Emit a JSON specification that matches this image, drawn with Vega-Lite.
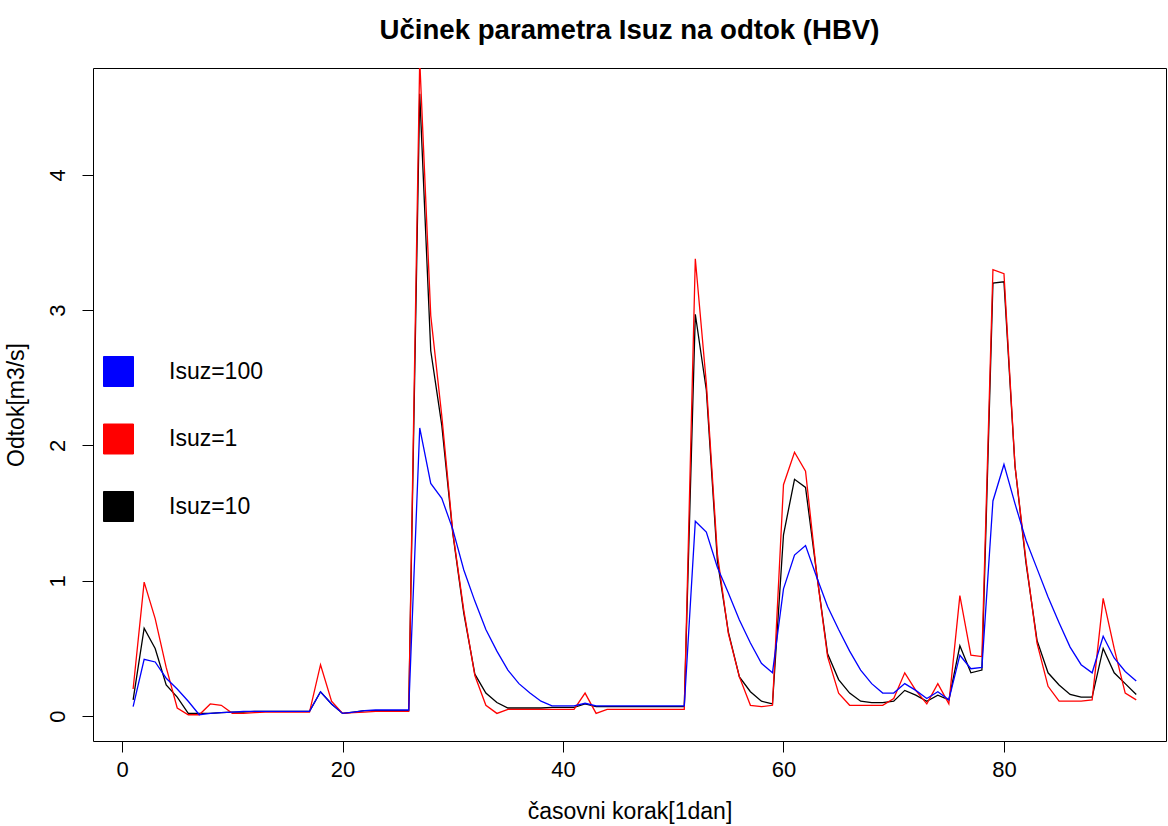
{
  "$schema": "https://vega.github.io/schema/vega-lite/v6.json",
  "autosize": "none",
  "width": 1073,
  "height": 673,
  "padding": {"left": 93, "top": 68, "right": 2, "bottom": 85},
  "background": "white",
  "config": {
    "font": "Liberation Sans",
    "view": {"stroke": "black", "strokeWidth": 1},
    "axis": {"grid": false, "domain": false, "tickColor": "black", "tickSize": 11, "tickWidth": 1,
             "labelColor": "black", "titleColor": "black", "labelFont": "Liberation Sans", "titleFont": "Liberation Sans",
             "titleFontWeight": "normal"}
  },
  "title": {
    "text": "Učinek parametra Isuz na odtok (HBV)",
    "fontSize": 27.6, "fontWeight": "bold", "font": "Liberation Sans", "color": "black",
    "anchor": "middle", "frame": "group", "baseline": "bottom", "offset": 24, "dy": 29
  },
  "data": {
    "values": [
      {"t": 1, "Isuz=100": 0.07, "Isuz=1": 0.20, "Isuz=10": 0.12},
      {"t": 2, "Isuz=100": 0.42, "Isuz=1": 0.99, "Isuz=10": 0.65},
      {"t": 3, "Isuz=100": 0.40, "Isuz=1": 0.72, "Isuz=10": 0.50},
      {"t": 4, "Isuz=100": 0.28, "Isuz=1": 0.36, "Isuz=10": 0.23},
      {"t": 5, "Isuz=100": 0.20, "Isuz=1": 0.06, "Isuz=10": 0.14},
      {"t": 6, "Isuz=100": 0.11, "Isuz=1": 0.01, "Isuz=10": 0.02},
      {"t": 7, "Isuz=100": 0.01, "Isuz=1": 0.01, "Isuz=10": 0.02},
      {"t": 8, "Isuz=100": 0.02, "Isuz=1": 0.09, "Isuz=10": 0.02},
      {"t": 9, "Isuz=100": 0.025, "Isuz=1": 0.08, "Isuz=10": 0.025},
      {"t": 10, "Isuz=100": 0.03, "Isuz=1": 0.02, "Isuz=10": 0.03},
      {"t": 11, "Isuz=100": 0.035, "Isuz=1": 0.02, "Isuz=10": 0.03},
      {"t": 12, "Isuz=100": 0.035, "Isuz=1": 0.025, "Isuz=10": 0.035},
      {"t": 13, "Isuz=100": 0.035, "Isuz=1": 0.03, "Isuz=10": 0.035},
      {"t": 14, "Isuz=100": 0.035, "Isuz=1": 0.03, "Isuz=10": 0.035},
      {"t": 15, "Isuz=100": 0.035, "Isuz=1": 0.03, "Isuz=10": 0.035},
      {"t": 16, "Isuz=100": 0.035, "Isuz=1": 0.03, "Isuz=10": 0.035},
      {"t": 17, "Isuz=100": 0.035, "Isuz=1": 0.03, "Isuz=10": 0.035},
      {"t": 18, "Isuz=100": 0.18, "Isuz=1": 0.38, "Isuz=10": 0.18},
      {"t": 19, "Isuz=100": 0.09, "Isuz=1": 0.11, "Isuz=10": 0.09},
      {"t": 20, "Isuz=100": 0.02, "Isuz=1": 0.02, "Isuz=10": 0.02},
      {"t": 21, "Isuz=100": 0.03, "Isuz=1": 0.025, "Isuz=10": 0.03},
      {"t": 22, "Isuz=100": 0.04, "Isuz=1": 0.03, "Isuz=10": 0.04},
      {"t": 23, "Isuz=100": 0.045, "Isuz=1": 0.035, "Isuz=10": 0.04},
      {"t": 24, "Isuz=100": 0.045, "Isuz=1": 0.035, "Isuz=10": 0.04},
      {"t": 25, "Isuz=100": 0.045, "Isuz=1": 0.035, "Isuz=10": 0.04},
      {"t": 26, "Isuz=100": 0.045, "Isuz=1": 0.035, "Isuz=10": 0.04},
      {"t": 27, "Isuz=100": 2.13, "Isuz=1": 4.85, "Isuz=10": 4.60},
      {"t": 28, "Isuz=100": 1.72, "Isuz=1": 2.96, "Isuz=10": 2.70},
      {"t": 29, "Isuz=100": 1.61, "Isuz=1": 2.22, "Isuz=10": 2.15},
      {"t": 30, "Isuz=100": 1.38, "Isuz=1": 1.36, "Isuz=10": 1.35},
      {"t": 31, "Isuz=100": 1.08, "Isuz=1": 0.78, "Isuz=10": 0.76},
      {"t": 32, "Isuz=100": 0.85, "Isuz=1": 0.30, "Isuz=10": 0.31},
      {"t": 33, "Isuz=100": 0.64, "Isuz=1": 0.08, "Isuz=10": 0.17},
      {"t": 34, "Isuz=100": 0.48, "Isuz=1": 0.02, "Isuz=10": 0.10},
      {"t": 35, "Isuz=100": 0.34, "Isuz=1": 0.05, "Isuz=10": 0.06},
      {"t": 36, "Isuz=100": 0.24, "Isuz=1": 0.05, "Isuz=10": 0.06},
      {"t": 37, "Isuz=100": 0.17, "Isuz=1": 0.05, "Isuz=10": 0.06},
      {"t": 38, "Isuz=100": 0.11, "Isuz=1": 0.05, "Isuz=10": 0.06},
      {"t": 39, "Isuz=100": 0.075, "Isuz=1": 0.05, "Isuz=10": 0.065},
      {"t": 40, "Isuz=100": 0.075, "Isuz=1": 0.05, "Isuz=10": 0.065},
      {"t": 41, "Isuz=100": 0.075, "Isuz=1": 0.05, "Isuz=10": 0.065},
      {"t": 42, "Isuz=100": 0.095, "Isuz=1": 0.17, "Isuz=10": 0.09},
      {"t": 43, "Isuz=100": 0.075, "Isuz=1": 0.02, "Isuz=10": 0.07},
      {"t": 44, "Isuz=100": 0.075, "Isuz=1": 0.05, "Isuz=10": 0.07},
      {"t": 45, "Isuz=100": 0.075, "Isuz=1": 0.05, "Isuz=10": 0.07},
      {"t": 46, "Isuz=100": 0.075, "Isuz=1": 0.05, "Isuz=10": 0.07},
      {"t": 47, "Isuz=100": 0.075, "Isuz=1": 0.05, "Isuz=10": 0.07},
      {"t": 48, "Isuz=100": 0.075, "Isuz=1": 0.05, "Isuz=10": 0.07},
      {"t": 49, "Isuz=100": 0.075, "Isuz=1": 0.05, "Isuz=10": 0.07},
      {"t": 50, "Isuz=100": 0.075, "Isuz=1": 0.05, "Isuz=10": 0.07},
      {"t": 51, "Isuz=100": 0.075, "Isuz=1": 0.05, "Isuz=10": 0.07},
      {"t": 52, "Isuz=100": 1.44, "Isuz=1": 3.38, "Isuz=10": 2.97},
      {"t": 53, "Isuz=100": 1.36, "Isuz=1": 2.46, "Isuz=10": 2.41},
      {"t": 54, "Isuz=100": 1.10, "Isuz=1": 1.20, "Isuz=10": 1.15},
      {"t": 55, "Isuz=100": 0.91, "Isuz=1": 0.61, "Isuz=10": 0.62},
      {"t": 56, "Isuz=100": 0.71, "Isuz=1": 0.29, "Isuz=10": 0.29},
      {"t": 57, "Isuz=100": 0.54, "Isuz=1": 0.08, "Isuz=10": 0.18},
      {"t": 58, "Isuz=100": 0.39, "Isuz=1": 0.07, "Isuz=10": 0.11},
      {"t": 59, "Isuz=100": 0.32, "Isuz=1": 0.08, "Isuz=10": 0.09},
      {"t": 60, "Isuz=100": 0.94, "Isuz=1": 1.71, "Isuz=10": 1.34},
      {"t": 61, "Isuz=100": 1.19, "Isuz=1": 1.95, "Isuz=10": 1.75},
      {"t": 62, "Isuz=100": 1.26, "Isuz=1": 1.81, "Isuz=10": 1.69},
      {"t": 63, "Isuz=100": 1.03, "Isuz=1": 1.06, "Isuz=10": 1.06},
      {"t": 64, "Isuz=100": 0.81, "Isuz=1": 0.44, "Isuz=10": 0.46},
      {"t": 65, "Isuz=100": 0.64, "Isuz=1": 0.17, "Isuz=10": 0.27},
      {"t": 66, "Isuz=100": 0.48, "Isuz=1": 0.08, "Isuz=10": 0.17},
      {"t": 67, "Isuz=100": 0.34, "Isuz=1": 0.08, "Isuz=10": 0.11},
      {"t": 68, "Isuz=100": 0.24, "Isuz=1": 0.08, "Isuz=10": 0.10},
      {"t": 69, "Isuz=100": 0.17, "Isuz=1": 0.08, "Isuz=10": 0.10},
      {"t": 70, "Isuz=100": 0.17, "Isuz=1": 0.13, "Isuz=10": 0.11},
      {"t": 71, "Isuz=100": 0.24, "Isuz=1": 0.32, "Isuz=10": 0.19},
      {"t": 72, "Isuz=100": 0.19, "Isuz=1": 0.19, "Isuz=10": 0.155},
      {"t": 73, "Isuz=100": 0.13, "Isuz=1": 0.09, "Isuz=10": 0.11},
      {"t": 74, "Isuz=100": 0.18, "Isuz=1": 0.24, "Isuz=10": 0.155},
      {"t": 75, "Isuz=100": 0.12, "Isuz=1": 0.09, "Isuz=10": 0.12},
      {"t": 76, "Isuz=100": 0.45, "Isuz=1": 0.89, "Isuz=10": 0.52},
      {"t": 77, "Isuz=100": 0.35, "Isuz=1": 0.45, "Isuz=10": 0.32},
      {"t": 78, "Isuz=100": 0.36, "Isuz=1": 0.44, "Isuz=10": 0.34},
      {"t": 79, "Isuz=100": 1.59, "Isuz=1": 3.30, "Isuz=10": 3.20},
      {"t": 80, "Isuz=100": 1.86, "Isuz=1": 3.27, "Isuz=10": 3.21},
      {"t": 81, "Isuz=100": 1.57, "Isuz=1": 1.85, "Isuz=10": 1.85},
      {"t": 82, "Isuz=100": 1.30, "Isuz=1": 1.15, "Isuz=10": 1.13},
      {"t": 83, "Isuz=100": 1.09, "Isuz=1": 0.54, "Isuz=10": 0.56},
      {"t": 84, "Isuz=100": 0.88, "Isuz=1": 0.22, "Isuz=10": 0.32},
      {"t": 85, "Isuz=100": 0.69, "Isuz=1": 0.11, "Isuz=10": 0.23},
      {"t": 86, "Isuz=100": 0.51, "Isuz=1": 0.11, "Isuz=10": 0.16},
      {"t": 87, "Isuz=100": 0.38, "Isuz=1": 0.11, "Isuz=10": 0.14},
      {"t": 88, "Isuz=100": 0.32, "Isuz=1": 0.12, "Isuz=10": 0.14},
      {"t": 89, "Isuz=100": 0.59, "Isuz=1": 0.87, "Isuz=10": 0.50},
      {"t": 90, "Isuz=100": 0.43, "Isuz=1": 0.50, "Isuz=10": 0.32},
      {"t": 91, "Isuz=100": 0.33, "Isuz=1": 0.17, "Isuz=10": 0.24},
      {"t": 92, "Isuz=100": 0.26, "Isuz=1": 0.12, "Isuz=10": 0.16}
    ]
  },
  "transform": [
    {"fold": ["Isuz=100", "Isuz=1", "Isuz=10"], "as": ["serija", "q"]}
  ],
  "encoding": {
    "x": {
      "field": "t", "type": "quantitative",
      "scale": {"domain": [-2.64, 94.7], "nice": false, "zero": false},
      "axis": {"values": [0, 20, 40, 60, 80], "title": "časovni korak[1dan]",
               "labelFontSize": 22, "labelPadding": 7, "titleFontSize": 23, "titlePadding": 20}
    },
    "y": {
      "field": "q", "type": "quantitative",
      "scale": {"domain": [-0.184, 4.79], "nice": false, "zero": false},
      "axis": {"values": [0, 1, 2, 3, 4], "title": "Odtok[m3/s]", "labelAngle": -90,
               "labelAlign": "center", "labelBaseline": "bottom",
               "labelFontSize": 22, "labelPadding": 13, "titleFontSize": 23, "titlePadding": 18}
    },
    "color": {
      "field": "serija", "type": "nominal",
      "scale": {"domain": ["Isuz=100", "Isuz=1", "Isuz=10"], "range": ["#0000ff", "#ff0000", "#000000"]},
      "legend": {
        "orient": "none", "legendX": 10, "legendY": 288, "title": null, "padding": 0,
        "symbolType": "square", "symbolSize": 900, "symbolStrokeWidth": 1,
        "labelFontSize": 23, "labelFont": "Liberation Sans", "labelColor": "black",
        "labelOffset": 35, "rowPadding": 32.5,
        "encode": {
          "symbols": {"update": {
            "fill": {"scale": "color", "field": "value"},
            "stroke": {"value": "#333333"},
            "strokeWidth": {"value": 1},
            "opacity": {"value": 1}
          }}
        }
      }
    }
  },
  "layer": [
    {"transform": [{"filter": "datum.serija === 'Isuz=10'"}], "mark": {"type": "line", "strokeWidth": 1.3, "clip": true}},
    {"transform": [{"filter": "datum.serija === 'Isuz=1'"}], "mark": {"type": "line", "strokeWidth": 1.3, "clip": true}},
    {"transform": [{"filter": "datum.serija === 'Isuz=100'"}], "mark": {"type": "line", "strokeWidth": 1.3, "clip": true}}
  ]
}
